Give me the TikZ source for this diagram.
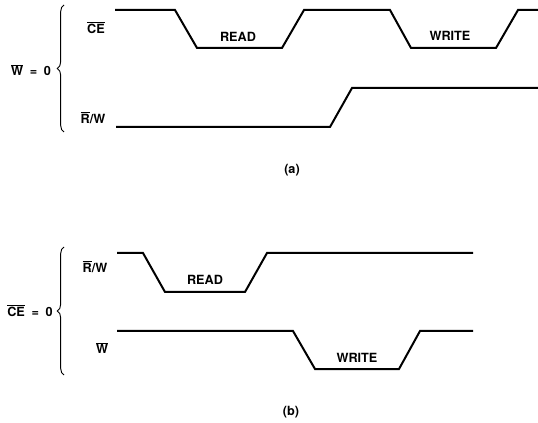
\documentclass[tikz,border=0pt]{standalone}
\usepackage{fontspec}
\setmainfont{TeX Gyre Heros}
\usetikzlibrary{decorations.pathreplacing}

\newcommand{\ovl}[1]{$\overline{\mbox{#1}}$}
\newcommand{\eqzero}{\hspace{5pt}=\hspace{5pt}0}

\begin{document}
\begin{tikzpicture}[x=0.75pt, y=-0.75pt,
  every node/.style={font=\bfseries\fontsize{9.5}{11}\selectfont, inner sep=0pt},
  wave/.style={line width=1.5pt, line join=miter},
  curly/.style={decorate, decoration={brace, amplitude=5pt}, line width=0.7pt}]

  \useasboundingbox (0,0) rectangle (538,423);

  %% Panel (a): W = 0
  \node (wzero) at (31,70) {\ovl{W}\eqzero};
  \draw[curly] (64,132) -- (64,5);

  % CE: read and write cycles
  \node (cea) at (96,28) {\ovl{CE}};
  \draw[wave] (115,10) -- (175,10) -- (197,48) -- (282,48) -- (304,10)
    -- (390,10) -- (411,48) -- (496,48) -- (518,10) -- (538,10);
  \node (reada) at (238,37) {READ};
  \node (writea) at (450,36) {WRITE};

  % R/W: low, then high
  \node (rwa) at (93,118) {\ovl{R}/W};
  \draw[wave] (116,127) -- (330,127) -- (352,88) -- (538,88);

  \node (capa) at (292,170) {(a)};

  %% Panel (b): CE = 0
  \node (cezero) at (30,311) {\ovl{CE}\eqzero};
  \draw[curly] (64,375) -- (64,247);

  % R/W: read pulse
  \node (rwb) at (95,267) {\ovl{R}/W};
  \draw[wave] (117,253) -- (143,253) -- (165,292) -- (245,292) -- (267,253)
    -- (473,253);
  \node (readb) at (205,280) {READ};

  % W: write pulse
  \node (wb) at (102,348) {\ovl{W}};
  \draw[wave] (117,331) -- (293,331) -- (315,369) -- (399,369) -- (420,331)
    -- (473,331);
  \node (writeb) at (357,358) {WRITE};

  \node (capb) at (291,412) {(b)};
\end{tikzpicture}
\end{document}
